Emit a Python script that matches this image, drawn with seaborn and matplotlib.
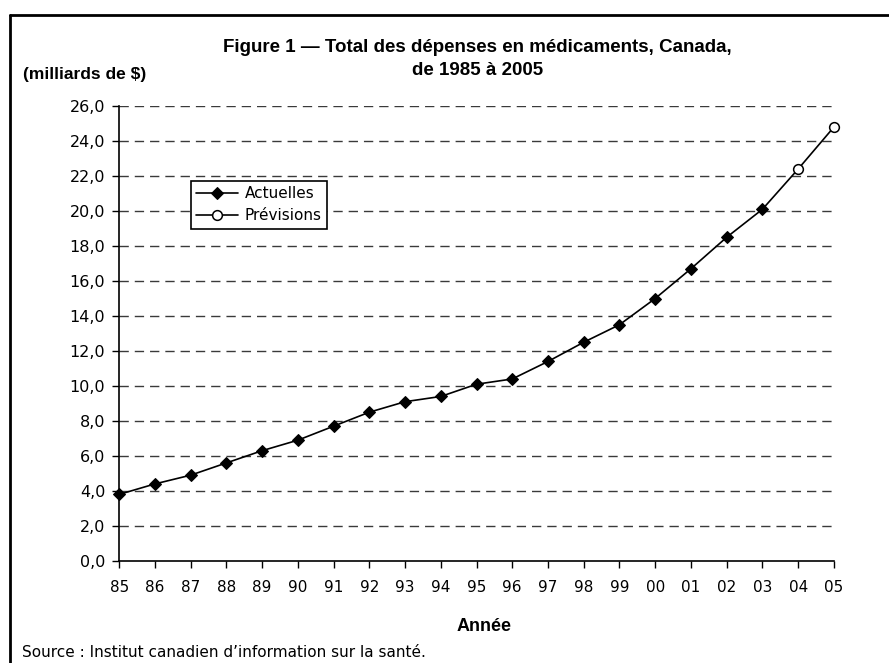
import matplotlib
matplotlib.use("Agg")
import matplotlib.pyplot as plt
import seaborn as sns
import pandas as pd

# data
years_actual = [1985, 1986, 1987, 1988, 1989, 1990, 1991, 1992, 1993, 1994,
                1995, 1996, 1997, 1998, 1999, 2000, 2001, 2002, 2003]
values_actual = [3.8, 4.4, 4.9, 5.6, 6.3, 6.9, 7.7, 8.5, 9.1, 9.4,
                 10.1, 10.4, 11.4, 12.5, 13.5, 15.0, 16.7, 18.5, 20.1]
years_forecast = [2003, 2004, 2005]
values_forecast = [20.1, 22.4, 24.8]
year_labels = ["85", "86", "87", "88", "89", "90", "91", "92", "93", "94", "95",
               "96", "97", "98", "99", "00", "01", "02", "03", "04", "05"]
y_ticks = [0, 2, 4, 6, 8, 10, 12, 14, 16, 18, 20, 22, 24, 26]

df_act = pd.DataFrame({"annee": years_actual, "valeur": values_actual})
df_prev = pd.DataFrame({"annee": years_forecast, "valeur": values_forecast})

sns.set_theme(style="white", rc={"text.color": "black", "axes.labelcolor": "black",
                                 "xtick.color": "black", "ytick.color": "black"})
plt.rcParams['font.family'] = ['DejaVu Sans']
bold_font = ['Liberation Sans', 'DejaVu Sans']

fig = plt.figure(figsize=(8.89, 6.63), dpi=100)
ax = fig.add_axes([0.134, 0.154, 0.804, 0.686])

# forecast segment first (line from 03), open circles on 04 and 05 only
sns.lineplot(data=df_prev, x="annee", y="valeur", ax=ax, color="black",
             linewidth=1.2, marker="o", markersize=7, markerfacecolor="white",
             markeredgecolor="black", markeredgewidth=1.1, markevery=[1, 2],
             label="Prévisions", zorder=3, clip_on=False)
sns.lineplot(data=df_act, x="annee", y="valeur", ax=ax, color="black",
             linewidth=1.2, marker="D", markersize=6.5, markerfacecolor="black",
             markeredgecolor="black", label="Actuelles", zorder=4, clip_on=False)

ax.set_xlim(1985, 2005)
ax.set_ylim(0, 26)
ax.set_xticks(list(range(1985, 2006)))
ax.set_xticklabels(year_labels, fontsize=11)
ax.set_yticks(y_ticks)
ax.set_yticklabels([f"{v:.1f}".replace(".", ",") for v in y_ticks], fontsize=11.5)

for v in y_ticks[1:]:
    ax.axhline(v, color="#3a3a3a", linewidth=1.0, linestyle=(0, (6.7, 4.3)), zorder=1)

for s in ["top", "right"]:
    ax.spines[s].set_visible(False)
for s in ["left", "bottom"]:
    ax.spines[s].set_color("black")
    ax.spines[s].set_linewidth(1.2)
ax.tick_params(axis="both", direction="out", length=5, width=1.0, color="black",
               labelcolor="black", bottom=True, left=True)
ax.tick_params(axis="x", pad=9)
ax.tick_params(axis="y", pad=5)

ax.set_xlabel("Année", fontsize=13, fontweight="bold", family=bold_font,
              color="black", labelpad=10)
ax.xaxis.set_label_coords(0.51, -0.125)
ax.set_ylabel("")

handles, labels = ax.get_legend_handles_labels()
order = [labels.index("Actuelles"), labels.index("Prévisions")]
leg = ax.legend([handles[i] for i in order], [labels[i] for i in order],
                loc="upper left", bbox_to_anchor=(0.1, 0.835), fontsize=11,
                frameon=True, fancybox=False, framealpha=1, edgecolor="black",
                handlelength=2.75, borderpad=0.35, labelspacing=0.45,
                handletextpad=0.45, borderaxespad=0, labelcolor="black")
leg.get_frame().set_linewidth(1.2)

fig.text(0.537, 0.929, "Figure 1 — Total des dépenses en médicaments, Canada,",
         ha="center", va="center", fontsize=13.5, fontweight="bold",
         family=bold_font, color="black")
fig.text(0.537, 0.893, "de 1985 à 2005", ha="center", va="center",
         fontsize=13.5, fontweight="bold", family=bold_font, color="black")
fig.text(0.026, 0.887, "(milliards de $)", ha="left", va="center",
         fontsize=12.5, fontweight="bold", family=bold_font, color="black")
fig.text(0.025, 0.016, "Source : Institut canadien d’information sur la santé.",
         ha="left", va="center", fontsize=11, color="black")

# frame around the figure (top and left edges visible in the reference)
fig.add_artist(plt.Line2D([0.011, 1.0], [0.977, 0.977], color="black", linewidth=2,
                          transform=fig.transFigure))
fig.add_artist(plt.Line2D([0.011, 0.011], [0.0, 0.977], color="black", linewidth=2,
                          transform=fig.transFigure))

fig.savefig("out.png", dpi=100)
